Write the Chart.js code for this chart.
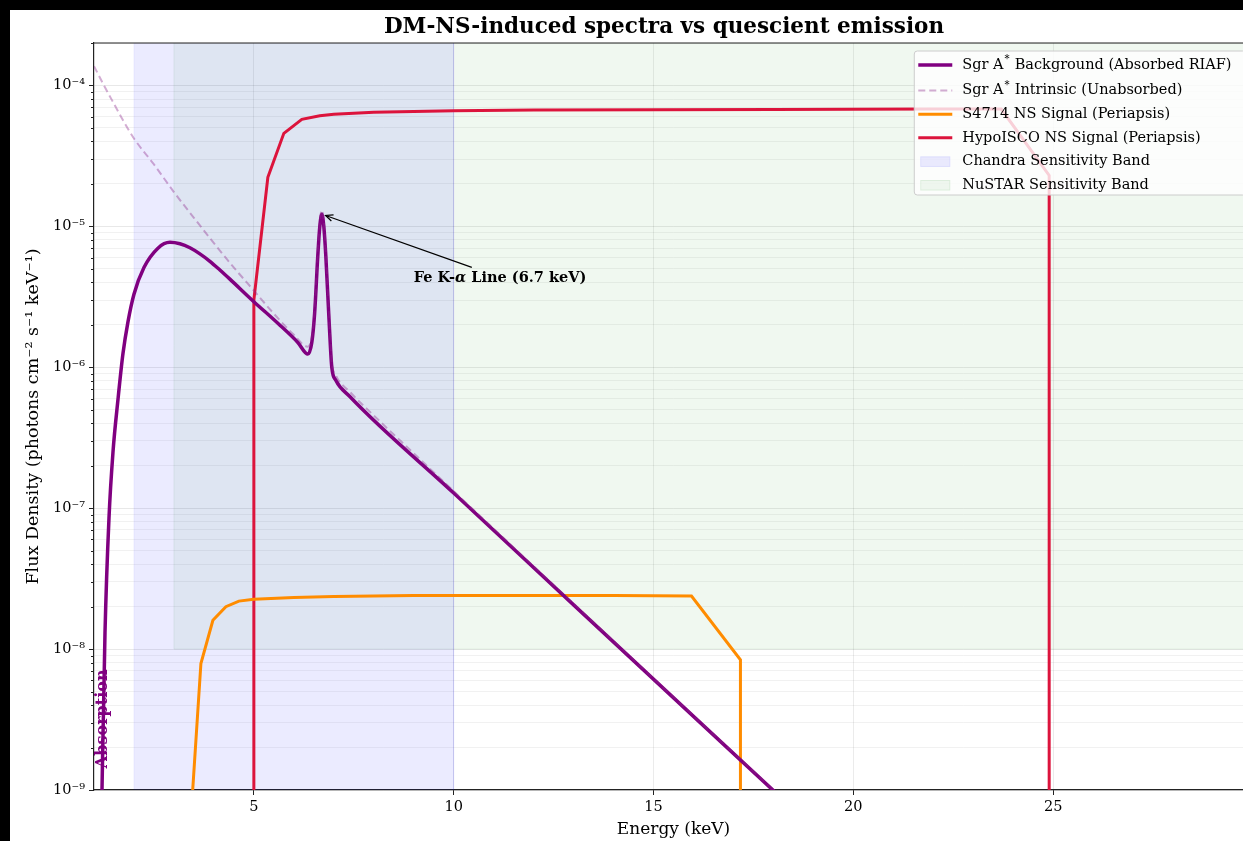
<!DOCTYPE html>
<html>
<head>
<meta charset="utf-8">
<script src="https://cdn.jsdelivr.net/npm/chart.js@4.4.1/dist/chart.umd.min.js"></script>
<style>
html,body{margin:0;padding:0;background:#000;overflow:hidden;width:1243px;height:841px;}
#wrap{position:absolute;left:10px;top:10px;width:1308px;height:850px;background:#fff;}
canvas{display:block;}
</style>
</head>
<body>
<div id="wrap"><canvas id="c" width="1308" height="850"></canvas></div>
<script>
const FONT = "'DejaVu Serif', 'Liberation Serif', serif";

// ---- text ----
const chartTitle = "DM-NS-induced spectra vs quescient emission";
const xTitle = "Energy (keV)";
const yTitle = "Flux Density (photons cm⁻² s⁻¹ keV⁻¹)";

// ---- axes ----
const xRange = [1, 30];
const yRange = [1e-9, 2e-4];
const xTicks = [5, 10, 15, 20, 25, 30];
const yMajorTicks = [1e-9, 1e-8, 1e-7, 1e-6, 1e-5, 1e-4];
const yTickLabels = ["10⁻⁹", "10⁻⁸", "10⁻⁷", "10⁻⁶", "10⁻⁵", "10⁻⁴"];

// ---- series ----
const bgLabel = "Sgr A* Background (Absorbed RIAF)";
const bgEnergy = [1.1, 1.2, 1.275, 1.375, 1.475, 1.6, 1.725, 1.85, 2.0, 2.25, 2.6, 2.9, 3.15, 3.4, 3.65, 3.9, 4.15, 4.4, 5.0, 5.6, 6.1, 6.35, 6.45, 6.52, 6.6, 6.65, 6.7, 6.75, 6.8, 6.88, 6.95, 7.05, 7.4, 10, 13, 16, 18, 20];
const bgFlux = [2e-11, 1.0e-9, 1.3e-8, 8.5e-8, 2.5e-7, 5.9e-7, 1.25e-6, 2.1e-6, 3.3e-6, 5.1e-6, 7.0e-6, 7.7e-6, 7.52e-6, 7.05e-6, 6.38e-6, 5.65e-6, 4.9e-6, 4.22e-6, 2.92e-6, 2.05e-6, 1.5e-6, 1.24e-6, 1.5e-6, 2.4e-6, 6.2e-6, 1.0e-5, 1.22e-5, 1.0e-5, 6.2e-6, 2.2e-6, 1.0e-6, 8.1e-7, 6.2e-7, 1.28e-7, 2.06e-8, 3.33e-9, 9.9e-10, 2.9e-10];

const intrLabel = "Sgr A* Intrinsic (Unabsorbed)";
const intrEnergy = [1.0, 1.25, 1.5, 1.75, 2.0, 2.5, 3.0, 3.5, 4.0, 4.5, 5.0, 5.5, 6.0, 6.35, 6.45, 6.52, 6.6, 6.65, 6.7, 6.75, 6.8, 6.88, 6.95, 7.05, 7.4, 8, 9, 10, 13, 16, 18, 20];
const intrFlux = [1.37e-4, 1.0e-4, 7.4e-5, 5.5e-5, 4.2e-5, 2.75e-5, 1.75e-5, 1.15e-5, 7.6e-6, 5.1e-6, 3.5e-6, 2.4e-6, 1.7e-6, 1.4e-6, 1.65e-6, 2.6e-6, 6.7e-6, 1.08e-5, 1.3e-5, 1.08e-5, 6.7e-6, 2.4e-6, 1.1e-6, 8.8e-7, 6.7e-7, 4.55e-7, 2.45e-7, 1.32e-7, 2.1e-8, 3.36e-9, 1.0e-9, 2.9e-10];

const s4714Label = "S4714 NS Signal (Periapsis)";
const s4714Energy = [3.35, 3.675, 3.975, 4.3, 4.625, 5.0, 6.0, 7.0, 8.0, 9.0, 10.0, 12.0, 14.0, 15.95, 17.175, 17.175];
const s4714Flux = [3e-10, 7.9e-9, 1.6e-8, 2.0e-8, 2.19e-8, 2.26e-8, 2.32e-8, 2.36e-8, 2.38e-8, 2.4e-8, 2.4e-8, 2.4e-8, 2.4e-8, 2.38e-8, 8.4e-9, 1e-12];

const hypoLabel = "HypoISCO NS Signal (Periapsis)";
const hypoEnergy = [5.0, 5.0, 5.35, 5.75, 6.2, 6.65, 7.0, 8.0, 10.0, 12.0, 15.0, 18.0, 20.0, 22.0, 23.7, 24.9, 24.9];
const hypoFlux = [1e-12, 3.0e-6, 2.23e-5, 4.57e-5, 5.75e-5, 6.1e-5, 6.25e-5, 6.45e-5, 6.6e-5, 6.68e-5, 6.72e-5, 6.76e-5, 6.78e-5, 6.8e-5, 6.8e-5, 2.3e-5, 1e-12];

// ---- sensitivity bands (keV range, flux range) ----
const chandraLabel = "Chandra Sensitivity Band";
const chandraEnergy = [2, 10];
const chandraFlux = [1e-12, 1e-2];
const nustarLabel = "NuSTAR Sensitivity Band";
const nustarEnergy = [3, 79];
const nustarFlux = [1e-8, 1e-2];

// ---- annotations ----
const feLine = {energy: 6.7, flux: 1.22e-5, textEnergy: 9, textFlux: 4e-6};
const feText = ["Fe K-", "α", " Line (6.7 keV)"];
const absorption = {energy: 1.22, flux: 3.2e-9, text: "Absorption"};

// ---- helpers ----
const pts = (xs, ys) => xs.map((x, i) => ({x: x, y: ys[i]}));
const rect = (ex, fy) => [
  {x: ex[0], y: fy[0]}, {x: ex[0], y: fy[1]}, {x: ex[1], y: fy[1]},
  {x: ex[1], y: fy[0]}, {x: ex[0], y: fy[0]}
];
const isMajor = v => Math.abs(Math.log10(v) - Math.round(Math.log10(v))) < 1e-6;
const yAllTicks = [];
for (let e = -9; e <= -4; e++) {
  for (let m = 1; m <= 9; m++) {
    const v = m * Math.pow(10, e);
    if (v <= yRange[1] * 1.0001) yAllTicks.push(v);
  }
}

Chart.defaults.font.family = FONT;
Chart.defaults.color = '#000';

function drawRich(ctx, text, x, y, fs, measureOnly) {
  const parts = text.split('*');
  let cx = x;
  for (let i = 0; i < parts.length; i++) {
    ctx.font = fs + 'px ' + FONT;
    if (!measureOnly) ctx.fillText(parts[i], cx, y);
    cx += ctx.measureText(parts[i]).width;
    if (i < parts.length - 1) {
      ctx.font = (fs * 0.7) + 'px ' + FONT;
      if (!measureOnly) ctx.fillText('*', cx + 1, y - fs * 0.38);
      cx += ctx.measureText('*').width + 1.5;
    }
  }
  return cx - x;
}

const extrasPlugin = {
  id: 'extras',
  afterDatasetsDraw(chart) {
    const {ctx, chartArea: a, scales: {x, y}} = chart;
    ctx.save();
    // spines (top/right)
    ctx.strokeStyle = '#222';
    ctx.lineWidth = 1.2;
    ctx.beginPath();
    ctx.moveTo(a.left, a.top); ctx.lineTo(a.right, a.top); ctx.lineTo(a.right, a.bottom);
    ctx.stroke();
    // minor y ticks
    ctx.lineWidth = 1;
    yAllTicks.forEach(v => {
      if (isMajor(v)) return;
      const py = Math.round(y.getPixelForValue(v)) + 0.5;
      ctx.beginPath(); ctx.moveTo(a.left - 3, py); ctx.lineTo(a.left, py); ctx.stroke();
    });

    // Fe line annotation
    const hx = x.getPixelForValue(feLine.energy), hy = y.getPixelForValue(feLine.flux);
    const tx = x.getPixelForValue(feLine.textEnergy), ty = y.getPixelForValue(feLine.textFlux);
    const fs = 14.5;
    const fonts = ['bold ' + fs + 'px ' + FONT, 'italic bold ' + fs + 'px ' + FONT, 'bold ' + fs + 'px ' + FONT];
    ctx.fillStyle = '#000';
    ctx.textBaseline = 'alphabetic';
    ctx.textAlign = 'left';
    let cx = tx;
    feText.forEach((t, i) => { ctx.font = fonts[i]; ctx.fillText(t, cx, ty); cx += ctx.measureText(t).width; });
    const tw = cx - tx;
    const ccx = tx + tw / 2, ccy = ty - 5;
    const topY = ty - 15;
    const tt = (ccy - topY) / (ccy - hy);
    const tailX = ccx + (hx - ccx) * tt, tailY = topY;
    const ang = Math.atan2(hy - tailY, hx - tailX);
    const headX = hx - Math.cos(ang) * 4, headY = hy - Math.sin(ang) * 4;
    ctx.strokeStyle = '#000';
    ctx.lineWidth = 1.2;
    ctx.beginPath(); ctx.moveTo(tailX, tailY); ctx.lineTo(headX, headY); ctx.stroke();
    const hl = 8, ha = 0.42;
    ctx.beginPath();
    ctx.moveTo(headX - hl * Math.cos(ang - ha), headY - hl * Math.sin(ang - ha));
    ctx.lineTo(headX, headY);
    ctx.lineTo(headX - hl * Math.cos(ang + ha), headY - hl * Math.sin(ang + ha));
    ctx.stroke();

    // Absorption label
    const ax = x.getPixelForValue(absorption.energy), ay = y.getPixelForValue(absorption.flux);
    ctx.translate(ax, ay);
    ctx.rotate(-Math.PI / 2);
    ctx.font = 'bold 16px ' + FONT;
    ctx.fillStyle = '#800080';
    ctx.textAlign = 'center';
    ctx.textBaseline = 'middle';
    ctx.fillText(absorption.text, 0, 0);
    ctx.restore();
  },
  afterDraw(chart) {
    // matplotlib-like legend inside the axes (upper right)
    const {ctx, chartArea: a} = chart;
    const fs = 14.5;
    const items = chart.data.datasets;
    ctx.save();
    const widths = items.map(d => drawRich(ctx, d.label, 0, 0, fs, true));
    const padL = 4, handle = 34, gap = 10, padR = 14, rowH = 23.6;
    const boxW = padL + handle + gap + Math.max(...widths) + padR;
    const boxH = 144;
    const right = a.right - 7.5, top = a.top + 8;
    const left = right - boxW;
    ctx.beginPath();
    ctx.roundRect(left, top, boxW, boxH, 3);
    ctx.fillStyle = 'rgba(255,255,255,0.8)';
    ctx.fill();
    ctx.strokeStyle = 'rgba(204,204,204,1)';
    ctx.lineWidth = 1;
    ctx.stroke();
    items.forEach((d, i) => {
      const cy = top + 14 + i * rowH + (i > 0 ? 2 : 0);
      const hx0 = left + padL;
      if (d.legendKind === 'patch') {
        ctx.fillStyle = d.backgroundColor;
        ctx.fillRect(hx0 + 2, cy - 5, handle - 4, 10.5);
        ctx.strokeStyle = d.borderColor;
        ctx.lineWidth = 1;
        ctx.strokeRect(hx0 + 2.5, cy - 4.5, handle - 5, 9.5);
      } else {
        ctx.strokeStyle = d.borderColor;
        ctx.lineWidth = d.borderWidth;
        ctx.setLineDash(d.borderDash || []);
        ctx.beginPath(); ctx.moveTo(hx0, cy); ctx.lineTo(hx0 + handle, cy); ctx.stroke();
        ctx.setLineDash([]);
      }
      ctx.fillStyle = '#000';
      ctx.textAlign = 'left';
      ctx.textBaseline = 'middle';
      drawRich(ctx, d.label, hx0 + handle + gap, cy, fs, false);
    });
    ctx.restore();
  }
};

new Chart(document.getElementById('c'), {
  type: 'line',
  data: {
    datasets: [
      {label: bgLabel, data: pts(bgEnergy, bgFlux), borderColor: '#800080', borderWidth: 3.5,
       cubicInterpolationMode: 'monotone', pointRadius: 0, fill: false, order: 2, legendKind: 'line'},
      {label: intrLabel, data: pts(intrEnergy, intrFlux), borderColor: 'rgba(140,40,140,0.38)', borderWidth: 2,
       borderDash: [7, 4], cubicInterpolationMode: 'monotone', pointRadius: 0, fill: false, order: 1, legendKind: 'line'},
      {label: s4714Label, data: pts(s4714Energy, s4714Flux), borderColor: '#FF8C00', borderWidth: 3,
       tension: 0, pointRadius: 0, fill: false, order: 3, legendKind: 'line'},
      {label: hypoLabel, data: pts(hypoEnergy, hypoFlux), borderColor: '#DC143C', borderWidth: 3,
       tension: 0, pointRadius: 0, fill: false, order: 3, legendKind: 'line'},
      {label: chandraLabel, data: rect(chandraEnergy, chandraFlux), borderColor: 'rgba(0,0,255,0.06)',
       backgroundColor: 'rgba(0,0,255,0.08)', borderWidth: 1, fill: 'shape', pointRadius: 0, tension: 0,
       order: 10, legendKind: 'patch'},
      {label: nustarLabel, data: rect(nustarEnergy, nustarFlux), borderColor: 'rgba(0,128,0,0.08)',
       backgroundColor: 'rgba(0,128,0,0.06)', borderWidth: 1, fill: 'shape', pointRadius: 0, tension: 0,
       order: 11, legendKind: 'patch'}
    ]
  },
  options: {
    responsive: false,
    animation: false,
    devicePixelRatio: 1,
    layout: {padding: {left: 0, top: 0, right: 0, bottom: 0}},
    plugins: {
      legend: {display: false},
      tooltip: {enabled: false},
      title: {display: true, text: chartTitle, color: '#000',
        font: {family: FONT, size: 21.5, weight: 'bold', lineHeight: 1.2},
        padding: {top: 4.1, bottom: 3.1}}
    },
    scales: {
      x: {
        type: 'linear', position: 'bottom', min: xRange[0], max: xRange[1],
        afterBuildTicks: s => { s.ticks = xTicks.map(v => ({value: v})); },
        afterFit: s => { s.height = 70; },
        ticks: {autoSkip: false, maxRotation: 0, padding: 4, color: '#000',
          font: {family: FONT, size: 14.5}, callback: v => String(v)},
        grid: {color: 'rgba(0,0,0,0.08)', tickColor: '#222', tickLength: 5, lineWidth: 1},
        border: {display: true, color: '#222', width: 1.2},
        title: {display: true, text: xTitle, color: '#000', font: {family: FONT, size: 17, lineHeight: 1.2},
          padding: {top: 0, bottom: 20}}
      },
      y: {
        type: 'logarithmic', position: 'left', min: yRange[0], max: yRange[1],
        afterBuildTicks: s => { s.ticks = yAllTicks.map(v => ({value: v, major: isMajor(v)})); },
        afterFit: s => { s.width = 84; },
        ticks: {autoSkip: false, padding: 4, color: '#000', font: {family: FONT, size: 14.5},
          callback: v => { const i = yMajorTicks.findIndex(m => Math.abs(m - v) / m < 1e-6); return i >= 0 ? yTickLabels[i] : ''; }},
        grid: {
          color: c => (c.tick && isMajor(c.tick.value)) ? 'rgba(0,0,0,0.09)' : 'rgba(0,0,0,0.055)',
          tickColor: c => (c.tick && isMajor(c.tick.value)) ? '#222' : 'rgba(0,0,0,0)',
          tickLength: 5, lineWidth: 1
        },
        border: {display: true, color: '#222', width: 1.2},
        title: {display: true, text: yTitle, color: '#000', font: {family: FONT, size: 17.5, lineHeight: 1.2},
          padding: {top: 12.5, bottom: 0}}
      },
      yR: {
        type: 'linear', position: 'right', display: true,
        afterFit: s => { s.width = 65; },
        ticks: {display: false},
        grid: {display: false, drawTicks: false},
        border: {display: false}
      }
    }
  },
  plugins: [extrasPlugin]
});
</script>
</body>
</html>
